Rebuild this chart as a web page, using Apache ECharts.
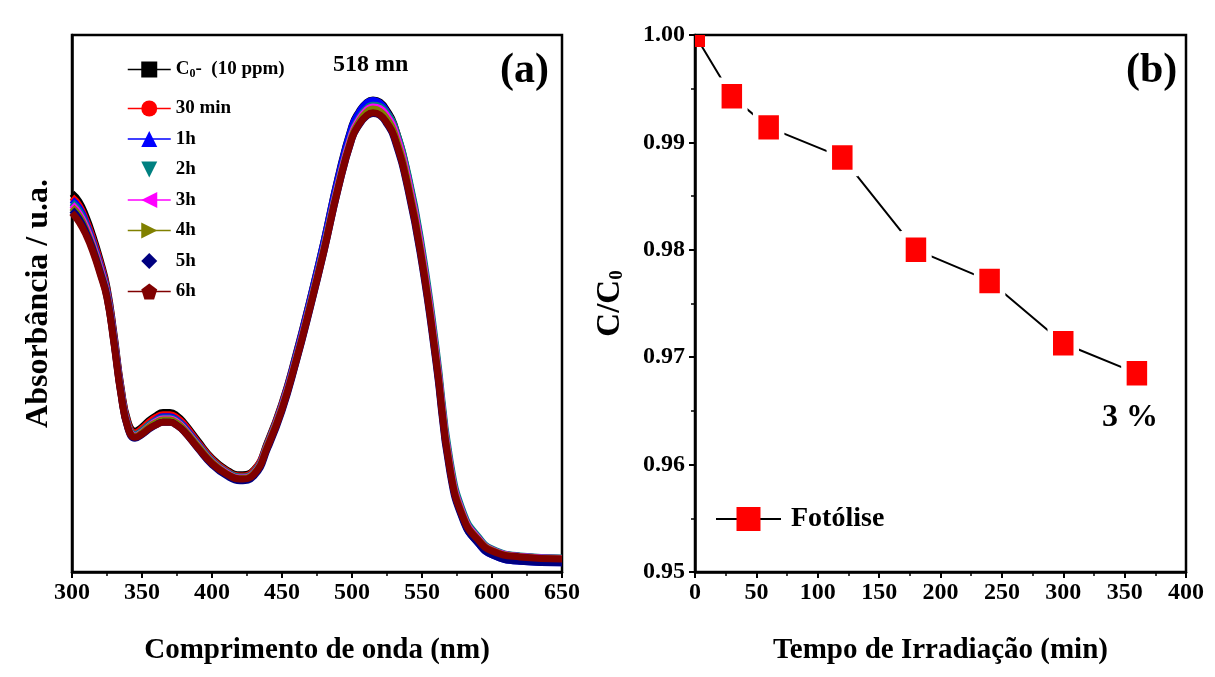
<!DOCTYPE html>
<html><head><meta charset="utf-8">
<script src="https://cdn.jsdelivr.net/npm/echarts@6/dist/echarts.min.js"></script>
<style>html,body{margin:0;padding:0;background:#fff}#c{width:1215px;height:677px}</style>
</head><body><div id="c"></div>
<script>
// ---------- Panel (a): UV-Vis spectra ----------
const wavelengths = [300,305,310,315,320,325,330,335,340,345,350,355,360,365,370,375,380,390,400,410,420,430,440,450,460,470,480,490,500,505,510,515,520,525,530,540,550,560,570,580,590,600,620,650];
const absC0   = [0.705,0.690,0.662,0.625,0.582,0.530,0.443,0.345,0.280,0.262,0.270,0.282,0.291,0.297,0.297,0.291,0.278,0.244,0.212,0.191,0.181,0.190,0.244,0.314,0.405,0.507,0.616,0.734,0.831,0.857,0.873,0.879,0.875,0.859,0.834,0.736,0.594,0.407,0.198,0.101,0.062,0.040,0.029,0.025];
const abs30min= [0.698,0.683,0.655,0.619,0.577,0.526,0.439,0.342,0.277,0.259,0.267,0.279,0.288,0.293,0.293,0.287,0.275,0.241,0.210,0.189,0.179,0.189,0.242,0.312,0.402,0.503,0.612,0.729,0.825,0.851,0.867,0.873,0.870,0.855,0.831,0.735,0.595,0.410,0.201,0.103,0.063,0.041,0.029,0.025];
const abs1h   = [0.693,0.678,0.650,0.614,0.572,0.522,0.435,0.338,0.272,0.254,0.262,0.274,0.283,0.289,0.289,0.283,0.271,0.238,0.207,0.186,0.175,0.185,0.240,0.310,0.402,0.505,0.615,0.732,0.829,0.855,0.872,0.878,0.873,0.856,0.830,0.730,0.588,0.400,0.192,0.094,0.054,0.032,0.020,0.017];
const abs2h   = [0.688,0.673,0.646,0.611,0.569,0.520,0.434,0.338,0.273,0.256,0.263,0.274,0.282,0.287,0.287,0.281,0.269,0.237,0.207,0.187,0.177,0.186,0.240,0.309,0.398,0.499,0.607,0.723,0.819,0.845,0.862,0.869,0.867,0.854,0.832,0.740,0.603,0.418,0.208,0.107,0.066,0.043,0.030,0.026];
const abs3h   = [0.684,0.668,0.642,0.607,0.566,0.517,0.431,0.335,0.270,0.253,0.260,0.271,0.280,0.285,0.285,0.279,0.267,0.235,0.205,0.185,0.175,0.184,0.238,0.307,0.396,0.497,0.604,0.720,0.816,0.842,0.859,0.866,0.863,0.849,0.826,0.731,0.592,0.407,0.199,0.102,0.063,0.041,0.029,0.025];
const abs4h   = [0.679,0.663,0.637,0.603,0.562,0.514,0.429,0.333,0.269,0.252,0.259,0.270,0.278,0.283,0.283,0.277,0.265,0.234,0.204,0.184,0.174,0.183,0.237,0.305,0.394,0.495,0.602,0.717,0.812,0.838,0.855,0.862,0.858,0.843,0.819,0.723,0.584,0.400,0.194,0.099,0.061,0.040,0.028,0.024];
const abs5h   = [0.674,0.658,0.633,0.600,0.559,0.512,0.427,0.331,0.267,0.249,0.256,0.266,0.274,0.279,0.279,0.273,0.262,0.230,0.200,0.180,0.170,0.179,0.232,0.300,0.390,0.490,0.597,0.712,0.807,0.832,0.848,0.854,0.850,0.834,0.809,0.712,0.573,0.390,0.185,0.092,0.054,0.032,0.020,0.017];
const abs6h   = [0.669,0.652,0.628,0.596,0.556,0.510,0.425,0.330,0.268,0.251,0.257,0.267,0.274,0.279,0.279,0.273,0.262,0.231,0.202,0.183,0.173,0.182,0.235,0.303,0.392,0.492,0.598,0.713,0.808,0.833,0.849,0.855,0.851,0.836,0.812,0.716,0.578,0.395,0.190,0.097,0.060,0.039,0.028,0.024];
const spectraNames = ['C0- (10 ppm)','30 min','1h','2h','3h','4h','5h','6h'];
const xTicksA = [300,350,400,450,500,550,600,650];

// ---------- Panel (b): photolysis kinetics ----------
const timeMin  = [0,30,60,120,180,240,300,360];
const ratioCC0 = [1.000,0.9943,0.9914,0.9886,0.9800,0.9771,0.9713,0.9685];
const xTicksB = [0,50,100,150,200,250,300,350,400];
const yTicksB = [0.95,0.96,0.97,0.98,0.99,1.00];

const spectra = [absC0,abs30min,abs1h,abs2h,abs3h,abs4h,abs5h,abs6h];
const colors = ['#000000','#ff0000','#0000ff','#008080','#ff00ff','#808000','#000080','#800000'];
const symbols = ['rect','circle','triangle','triangle','triangle','triangle','diamond','path://M50,0 L98,35 L79,95 L21,95 L2,35 Z'];
const rotates = [0,0,0,180,90,-90,0,0];

const FONT = "'Liberation Serif','Times New Roman',serif";
const chart = echarts.init(document.getElementById('c'));

const spectraSeries = spectra.map((arr,i)=>({
  name: spectraNames[i], type:'line', xAxisIndex:0, yAxisIndex:0,
  data: wavelengths.map((w,k)=>[w,arr[k]]),
  smooth: true, showSymbol:false, symbol: symbols[i], symbolRotate: rotates[i],
  color: colors[i], lineStyle:{color:colors[i], width:7}, itemStyle:{color:colors[i]},
  z: 2+i, animation:false
}));

const axisCommon = {
  axisLine:{show:true, onZero:false, lineStyle:{color:'#000', width:2.5}},
  axisTick:{show:true, inside:false, length:6, lineStyle:{color:'#000', width:2}},
  minorTick:{show:true, splitNumber:2, length:4, lineStyle:{color:'#000', width:1.5}},
  splitLine:{show:false},
  axisLabel:{color:'#000', fontFamily:FONT, fontWeight:'bold', fontSize:24}
};

const legendText = {color:'#000', fontFamily:FONT, fontWeight:'bold', fontSize:19,
  rich:{sub:{fontFamily:FONT, fontWeight:'bold', fontSize:12, verticalAlign:'bottom', padding:[9,0,0,0], color:'#000'},
        n:{fontFamily:FONT, fontWeight:'bold', fontSize:19, color:'#000'}}};

chart.setOption({
  backgroundColor:'#fff',
  animation:false,
  grid:[
    {left:72, top:35, width:490, height:537, show:true, borderColor:'#000', borderWidth:2.5, backgroundColor:'transparent'},
    {left:695, top:35, width:491, height:537, show:true, borderColor:'#000', borderWidth:2.5, backgroundColor:'transparent'}
  ],
  xAxis:[
    Object.assign({}, axisCommon, {type:'value', gridIndex:0, min:xTicksA[0], max:xTicksA[xTicksA.length-1], interval:xTicksA[1]-xTicksA[0],
      axisLabel:Object.assign({}, axisCommon.axisLabel, {margin:9}),
      name:'Comprimento de onda (nm)', nameLocation:'middle', nameGap:64,
      nameTextStyle:{color:'#000', fontFamily:FONT, fontWeight:'bold', fontSize:29}}),
    Object.assign({}, axisCommon, {type:'value', gridIndex:1, min:xTicksB[0], max:xTicksB[xTicksB.length-1], interval:xTicksB[1]-xTicksB[0],
      axisLabel:Object.assign({}, axisCommon.axisLabel, {margin:9}),
      name:'Tempo de Irradiação (min)', nameLocation:'middle', nameGap:64,
      nameTextStyle:{color:'#000', fontFamily:FONT, fontWeight:'bold', fontSize:29}})
  ],
  yAxis:[
    {type:'value', gridIndex:0, min:0, max:1,
      axisLine:{show:true, lineStyle:{color:'#000', width:2.5}},
      axisTick:{show:false}, axisLabel:{show:false}, splitLine:{show:false},
      name:'Absorbância / u.a.', nameLocation:'middle', nameGap:17,
      nameTextStyle:{color:'#000', fontFamily:FONT, fontWeight:'bold', fontSize:32}},
    Object.assign({}, axisCommon, {type:'value', gridIndex:1, min:yTicksB[0], max:yTicksB[yTicksB.length-1], interval:0.01,
      axisLabel:Object.assign({}, axisCommon.axisLabel, {margin:10, formatter:v=>v.toFixed(2)}),
      name:'C/C{sub|0}', nameLocation:'middle', nameGap:68,
      nameTextStyle:{color:'#000', fontFamily:FONT, fontWeight:'bold', fontSize:33,
        rich:{sub:{fontFamily:FONT, fontWeight:'bold', fontSize:19, verticalAlign:'bottom', padding:[14,0,0,0], color:'#000'}}}})
  ],
  legend:[
    {orient:'vertical', left:127, top:60, padding:0, itemWidth:43, itemHeight:20, itemGap:12,
      data:[spectraNames[0]], lineStyle:{width:1.5}, itemStyle:{borderWidth:0},
      formatter:n=>'C{sub|0}{n|-  (10 ppm)}', textStyle:legendText, selectedMode:false},
    {orient:'vertical', left:127, top:99, padding:0, itemWidth:43, itemHeight:20, itemGap:11.5,
      data:spectraNames.slice(1).map(n=>(n==='2h'||n==='5h')?{name:n, lineStyle:{opacity:0}}:{name:n}),
      lineStyle:{width:1.5}, itemStyle:{borderWidth:0}, textStyle:legendText, selectedMode:false},
    {orient:'vertical', left:715, top:505, padding:0, itemWidth:65, itemHeight:30,
      data:['Fotólise'], lineStyle:{width:2}, itemStyle:{borderWidth:0},
      textStyle:{color:'#000', fontFamily:FONT, fontWeight:'bold', fontSize:28, padding:[0,0,0,5]}, selectedMode:false}
  ],
  series: spectraSeries.concat([{
    name:'Fotólise', type:'line', xAxisIndex:1, yAxisIndex:1,
    data: timeMin.map((t,k)=> k===0
      ? {value:[t,ratioCC0[k]], symbolSize:[10,12], symbolOffset:[5,6], itemStyle:{borderWidth:0}}
      : [t,ratioCC0[k]]),
    symbol:'rect', symbolSize:[26,31], showSymbol:true,
    lineStyle:{color:'#000', width:2},
    itemStyle:{color:'#ff0000', borderColor:'#fff', borderWidth:6},
    color:'#ff0000', z:10, animation:false
  }]),
  graphic:[
    {type:'text', left:333, top:53, style:{text:'518 mn', fill:'#000', font:"bold 24px "+FONT}},
    {type:'text', left:500, top:50, style:{text:'(a)', fill:'#000', font:"bold 42px "+FONT}},
    {type:'text', left:1126, top:50, style:{text:'(b)', fill:'#000', font:"bold 42px "+FONT}},
    {type:'text', left:1102, top:402, style:{text:'3 %', fill:'#000', font:"bold 32px "+FONT}}
  ]
});
</script></body></html>
